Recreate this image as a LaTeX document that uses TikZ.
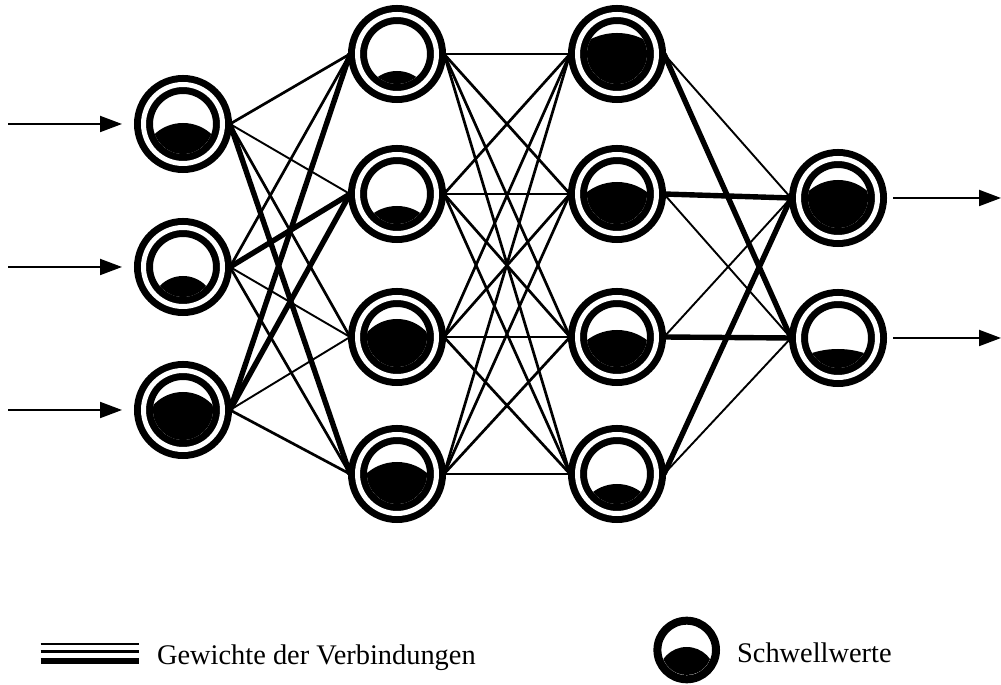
\documentclass[tikz,border=0pt]{standalone}
\usepackage{fontspec}
\setmainfont{Liberation Serif}
\usetikzlibrary{arrows.meta}
\tikzstyle{neuron}=[circle,draw,double,line width=3.5pt,double distance=2.5pt,minimum size=39.5pt,inner sep=0pt,outer sep=3.75pt]
\tikzstyle{schwelle}=[circle,draw,line width=4pt,minimum size=29.3pt,inner sep=0pt]
\tikzstyle{leicht}=[line width=0.95pt]
\tikzstyle{mittel}=[line width=1.35pt]
\tikzstyle{stark}=[line width=2.7pt]
\tikzstyle{pfeil}=[-{Triangle[length=11pt,width=8pt]},line width=1pt]
\tikzstyle{legende}=[font=\fontsize{14.2}{17}\selectfont,anchor=base west,inner sep=0pt]
% black threshold filling: node, top of the dome, drop of the dome
\newcommand{\Fuellung}[4][30]{%
  \pgfmathsetmacro{\Yi}{#3-#4}%
  \pgfmathsetmacro{\Rd}{(#1*#1-\Yi*\Yi+#4*#4)/(2*#4)}%
  \begin{scope}
    \clip (#2.center) circle (#1);
    \fill (#2.center) ++(0,{#3-\Rd}) circle (\Rd);
  \end{scope}}

\begin{document}
\begin{tikzpicture}
	[x=0.5pt,y=0.5pt]
	\useasboundingbox (0,0) rectangle (1001,685);

	% Eingabe
	\node (e1) [neuron] at (183,561) {};
	\node (e2) [neuron] at (183,418) {};
	\node (e3) [neuron] at (183,275) {};
	% erste verdeckte Schicht
	\node (v1) [neuron] at (397,631) {};
	\node (v2) [neuron] at (397,491) {};
	\node (v3) [neuron] at (397,348) {};
	\node (v4) [neuron] at (397,211) {};
	% zweite verdeckte Schicht
	\node (w1) [neuron] at (617,631) {};
	\node (w2) [neuron] at (617,491) {};
	\node (w3) [neuron] at (617,348) {};
	\node (w4) [neuron] at (617,211) {};
	% Ausgabe
	\node (a1) [neuron] at (838,487) {};
	\node (a2) [neuron] at (838,347) {};

	\Fuellung{e1}{1}{11}
	\Fuellung{e2}{-9}{10}
	\Fuellung{e3}{18}{13}
	\Fuellung{v1}{-17}{6}
	\Fuellung{v2}{-12}{7}
	\Fuellung{v3}{18}{13}
	\Fuellung{v4}{12}{11}
	\Fuellung{w1}{21}{6}
	\Fuellung{w2}{12}{10}
	\Fuellung{w3}{7}{10}
	\Fuellung{w4}{-10}{8}
	\Fuellung{a1}{18}{11}
	\Fuellung{a2}{-11}{4}

	\coordinate (x1) at (8,561);
	\coordinate (x2) at (8,418);
	\coordinate (x3) at (8,275);
	\coordinate (y1) at (1001,487);
	\coordinate (y2) at (1001,347);
	\draw[pfeil,shorten >=7pt] (x1) -- (e1.west);
	\draw[pfeil,shorten >=7pt] (x2) -- (e2.west);
	\draw[pfeil,shorten >=7pt] (x3) -- (e3.west);
	\draw[pfeil,shorten <=4pt] (a1.east) -- (y1);
	\draw[pfeil,shorten <=4pt] (a2.east) -- (y2);

	\path[leicht]
		(e1.east) edge (v2.west)
		(e2.east) edge (v3.west)
		(e3.east) edge (v3.west);
	\path[mittel]
		(e1.east) edge (v1.west)
		(e1.east) edge (v3.west)
		(e2.east) edge (v1.west)
		(e2.east) edge (v4.west)
		(e3.east) edge (v4.west);
	\path[stark]
		(e1.east) edge (v4.west)
		(e2.east) edge (v2.west)
		(e3.east) edge (v1.west)
		(e3.east) edge (v2.west);

	\path[mittel]
		(v1.east) edge (w1.west) (v1.east) edge (w2.west) (v1.east) edge (w3.west) (v1.east) edge (w4.west)
		(v2.east) edge (w1.west) (v2.east) edge (w2.west) (v2.east) edge (w3.west) (v2.east) edge (w4.west)
		(v3.east) edge (w1.west) (v3.east) edge (w2.west) (v3.east) edge (w3.west) (v3.east) edge (w4.west)
		(v4.east) edge (w1.west) (v4.east) edge (w2.west) (v4.east) edge (w3.west) (v4.east) edge (w4.west);

	\path[leicht]
		(w1.east) edge (a1.west)
		(w2.east) edge (a2.west)
		(w3.east) edge (a1.west)
		(w4.east) edge (a2.west);
	\path[stark]
		(w1.east) edge (a2.west)
		(w2.east) edge (a1.west)
		(w3.east) edge (a2.west)
		(w4.east) edge (a1.west);

	% Legende
	\draw[leicht] (40.7,40.7) -- (139.3,40.7);
	\draw[mittel] (40.7,33.3) -- (139.3,33.3);
	\draw[stark,line width=3pt] (40.7,24.3) -- (139.3,24.3);
	\node (gw) [legende] at (156.7,20.7) {Gewichte der Verbindungen};
	\node (sym) [schwelle] at (686.7,35) {};
	\Fuellung[25]{sym}{3}{12}
	\node (sw) [legende] at (736.7,22.3) {Schwellwerte};
\end{tikzpicture}
\end{document}
